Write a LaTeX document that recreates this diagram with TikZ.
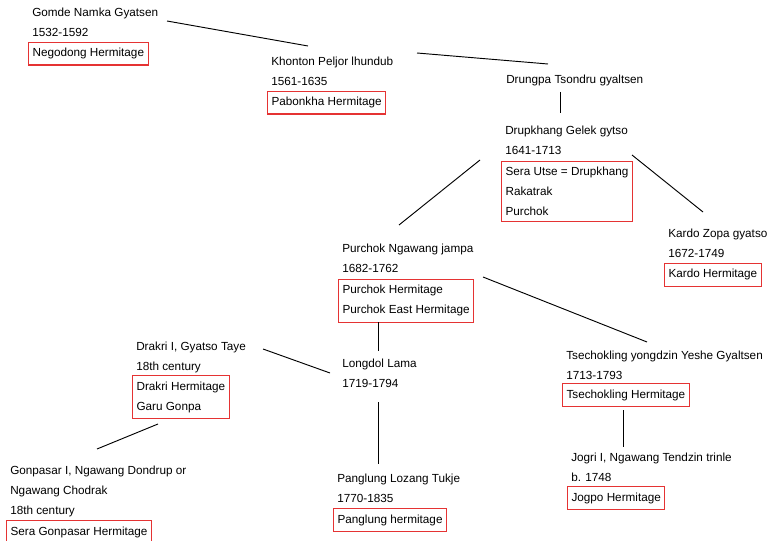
\documentclass[tikz,border=0pt]{standalone}
\usepackage{fontspec}
\setmainfont{Liberation Sans}
\usepackage{tikz}
\definecolor{seatred}{rgb}{0.9,0.2,0.2}

\begin{document}
\begin{tikzpicture}[x=0.75pt, y=-0.75pt,
  lama/.style={anchor=base west, inner sep=0pt, align=left, font=\fontsize{8.8}{15}\selectfont},
  seat/.style={draw=seatred, line width=0.8pt, anchor=base west, inner xsep=3pt, inner ysep=4.2pt, align=left, font=\fontsize{8.8}{15}\selectfont},
  link/.style={draw, line width=0.7pt}]
\useasboundingbox (0,0) rectangle (770,541);

\node[lama] at (32,37) (gomde) {Gomde Namka Gyatsen\\1532-1592};
\node[seat] at ([shift={(-4,20)}]gomde.base west) (gomdebox) {Negodong Hermitage};

\node[lama] at (271,86) (khonton) {Khonton Peljor lhundub\\1561-1635};
\node[seat] at ([shift={(-4,20)}]khonton.base west) (khontonbox) {Pabonkha Hermitage};

\node[lama] at (506,84) (drungpa) {Drungpa Tsondru gyaltsen};

\node[lama] at (505,155) (drupkhang) {Drupkhang Gelek gytso\\1641-1713};
\node[seat] at ([shift={(-4,61)}]drupkhang.base west) (drupkhangbox) {Sera Utse = Drupkhang\\Rakatrak\\Purchok};

\node[lama] at (668,258) (kardo) {Kardo Zopa gyatso\\1672-1749};
\node[seat] at ([shift={(-4,20)}]kardo.base west) (kardobox) {Kardo Hermitage};

\node[lama] at (342,273) (purchok) {Purchok Ngawang jampa\\1682-1762};
\node[seat] at ([shift={(-4,41)}]purchok.base west) (purchokbox) {Purchok Hermitage\\Purchok East Hermitage};

\node[lama] at (136,370) (drakri) {Drakri I, Gyatso Taye\\18th century};
\node[seat] at ([shift={(-4,40)}]drakri.base west) (drakribox) {Drakri Hermitage\\Garu Gonpa};

\node[lama] at (342,387) (longdol) {Longdol Lama\\1719-1794};

\node[lama] at (566,379) (tsechok) {Tsechokling yongdzin Yeshe Gyaltsen\\1713-1793};
\node[seat] at ([shift={(-4,19)}]tsechok.base west) (tsechokbox) {Tsechokling Hermitage};

\node[lama] at (571,481) (jogri) {Jogri I, Ngawang Tendzin trinle\\b. 1748};
\node[seat] at ([shift={(-4,20)}]jogri.base west) (jogribox) {Jogpo Hermitage};

\node[lama] at (337,502) (panglung) {Panglung Lozang Tukje\\1770-1835};
\node[seat] at ([shift={(-4,21)}]panglung.base west) (panglungbox) {Panglung hermitage};

\node[lama] at (10,514) (gonpasar) {Gonpasar I, Ngawang Dondrup or\\Ngawang Chodrak\\18th century};
\node[seat] at ([shift={(-4,21)}]gonpasar.base west) (gonpasarbox) {Sera Gonpasar Hermitage};

\draw[link] ([shift={(135,-16)}]gomde.base west) -- ([shift={(37,-40)}]khonton.base west);
\draw[link] ([shift={(146,-33)}]khonton.base west) -- ([shift={(42,-20)}]drungpa.base west);
\draw[link] ([shift={(54,8)}]drungpa.base west) -- ([shift={(55,-42)}]drupkhang.base west);
\draw[link] ([shift={(-25,5)}]drupkhang.base west) -- ([shift={(57,-48)}]purchok.base west);
\draw[link] ([shift={(127,0)}]drupkhang.base west) -- ([shift={(35,-46)}]kardo.base west);
\draw[link] ([shift={(141,4)}]purchok.base west) -- ([shift={(81,-37)}]tsechok.base west);
\draw[link] ([shift={(40,8)}]purchokbox.base west) -- ([shift={(36,-36)}]longdol.base west);
\draw[link] ([shift={(127,-21)}]drakri.base west) -- ([shift={(-12,-14)}]longdol.base west);
\draw[link] ([shift={(36,15)}]longdol.base west) -- ([shift={(41,-38)}]panglung.base west);
\draw[link] ([shift={(26,14)}]drakribox.base west) -- ([shift={(87,-65)}]gonpasar.base west);
\draw[link] ([shift={(61,12)}]tsechokbox.base west) -- ([shift={(52,-34)}]jogri.base west);
\end{tikzpicture}
\end{document}
